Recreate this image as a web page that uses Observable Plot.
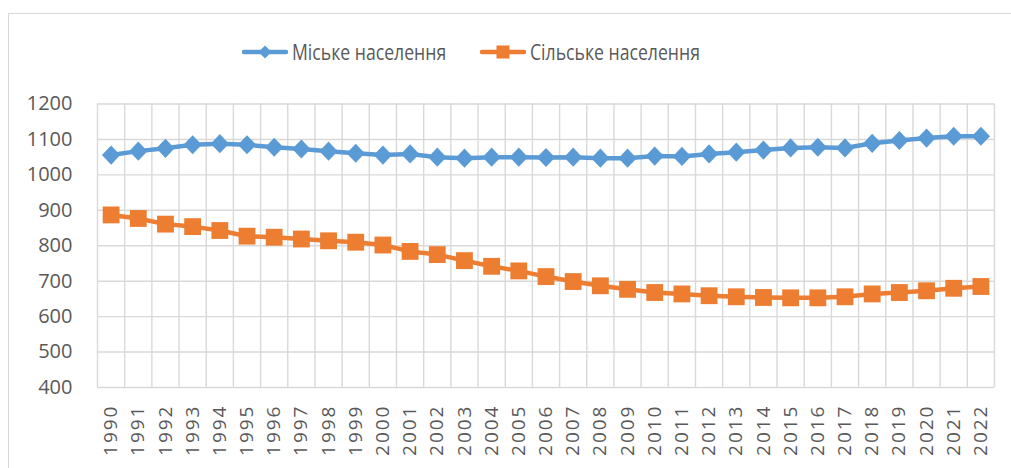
<!DOCTYPE html>
<html>
<head>
<meta charset="utf-8">
<script src="https://cdn.jsdelivr.net/npm/d3@7"></script>
<script src="https://cdn.jsdelivr.net/npm/@observablehq/plot@0.6"></script>
<style>
  html, body { margin: 0; padding: 0; background: #fff; overflow: hidden; }
  #wrap { position: relative; width: 1011px; height: 468px; overflow: hidden; font-family: "Open Sans", sans-serif; }
  #frame { position: absolute; left: 8px; top: 13px; width: 1100px; height: 600px; border-left: 1.5px solid #d9d9d9; border-top: 1.5px solid #d9d9d9; box-sizing: border-box; }
  #chart { position: absolute; left: 0; top: 0; }
  .leg { position: absolute; top: 38px; height: 28px; display: flex; align-items: center; color: #595959; font-size: 21px; white-space: nowrap; }
  .leg svg { margin-right: 4px; flex: none; }
  .leg span { display: inline-block; transform: scaleX(0.84); transform-origin: 0 50%; }
  g[aria-label="x-axis tick label"] text { letter-spacing: 2px; }
</style>
</head>
<body>
<div id="wrap">
  <div id="frame"></div>
  <div id="chart"></div>
  <div id="legend"></div>
</div>
<script>
const years = [1990,1991,1992,1993,1994,1995,1996,1997,1998,1999,2000,2001,2002,2003,2004,2005,2006,2007,2008,2009,2010,2011,2012,2013,2014,2015,2016,2017,2018,2019,2020,2021,2022];
const urban = [1056,1067,1075,1085,1088,1085,1078,1073,1067,1061,1056,1059,1050,1047,1050,1050,1049,1050,1047,1047,1053,1052,1059,1064,1070,1076,1078,1076,1089,1097,1104,1109,1109];
const rural = [887,877,861,854,843,827,824,819,814,810,802,784,775,758,742,729,713,699,687,677,668,664,659,656,654,653,653,656,664,668,673,680,685];
const yTicks = [400,500,600,700,800,900,1000,1100,1200];
const seriesNames = ["Міське населення", "Сільське населення"];
const colors = ["#5B9BD5", "#ED7D31"];

const diamond = { draw(ctx, size) { const d = Math.sqrt(size / 2); ctx.moveTo(0, -d * 1.05); ctx.lineTo(d, 0); ctx.lineTo(0, d * 1.05); ctx.lineTo(-d, 0); ctx.closePath(); } };
const square = { draw(ctx, size) { const h = Math.sqrt(size) / 2; ctx.rect(-h, -h, 2 * h, 2 * h); } };

const urbanData = years.map((y, i) => ({year: y, value: urban[i]}));
const ruralData = years.map((y, i) => ({year: y, value: rural[i]}));
const bounds = years.map(y => y - 0.5).concat([years[years.length - 1] + 0.5]);

const chart = Plot.plot({
  width: 1011,
  height: 468,
  marginLeft: 97,
  marginRight: 17,
  marginTop: 103.5,
  marginBottom: 81,
  style: { fontFamily: "Open Sans, sans-serif", fontSize: "20px", color: "#595959", background: "transparent" },
  x: { domain: [bounds[0], bounds[bounds.length - 1]] },
  y: { domain: [400, 1200] },
  marks: [
    Plot.ruleY(yTicks, { stroke: "#d9d9d9", strokeWidth: 1.4 }),
    Plot.ruleX(bounds, { stroke: "#d9d9d9", strokeWidth: 1.4 }),
    Plot.axisY({ ticks: yTicks, tickSize: 0, tickPadding: 25, tickFormat: d => String(d), label: null, fontSize: 20 }),
    Plot.axisX({ ticks: years, tickSize: 0, tickPadding: 17, tickRotate: -90, tickFormat: d => String(d), label: null, fontSize: 19 }),
    Plot.line(urbanData, { x: "year", y: "value", stroke: colors[0], strokeWidth: 4.5 }),
    Plot.dot(urbanData, { x: "year", y: "value", r: 7.3, symbol: diamond, fill: colors[0], stroke: "none" }),
    Plot.line(ruralData, { x: "year", y: "value", stroke: colors[1], strokeWidth: 4.5 }),
    Plot.dot(ruralData, { x: "year", y: "value", r: 9.5, symbol: square, fill: colors[1], stroke: "none" })
  ]
});
document.getElementById("chart").appendChild(chart);

// Legend
const legend = document.getElementById("legend");
const lefts = [242, 480];
seriesNames.forEach((name, i) => {
  const item = document.createElement("div");
  item.className = "leg";
  item.style.left = lefts[i] + "px";
  const marker = i === 0
    ? `<path d="M23,7.5 L29.5,14 L23,20.5 L16.5,14 Z" fill="${colors[0]}"/>`
    : `<rect x="16.5" y="7.5" width="13" height="13" fill="${colors[1]}"/>`;
  item.innerHTML = `<svg width="46" height="28"><line x1="2" y1="14" x2="44" y2="14" stroke="${colors[i]}" stroke-width="4.5" stroke-linecap="round"/>${marker}</svg><span>${name}</span>`;
  legend.appendChild(item);
});
</script>
</body>
</html>
